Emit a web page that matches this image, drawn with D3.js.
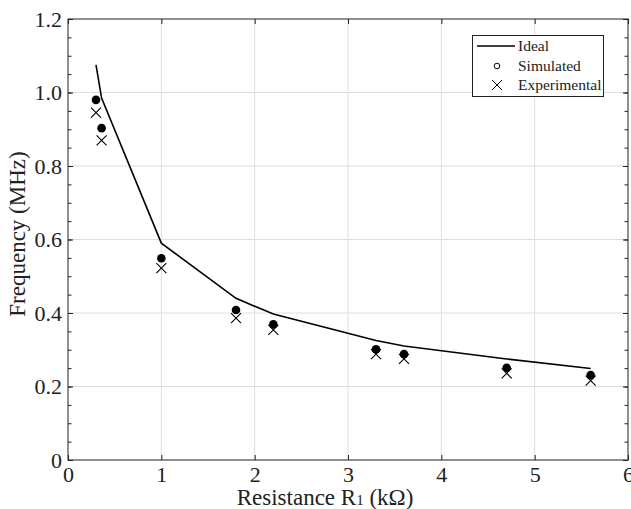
<!DOCTYPE html>
<html><head><meta charset="utf-8">
<script src="https://cdn.jsdelivr.net/npm/d3@7"></script>
<style>body{margin:0;background:#fff;} svg{display:block;} text{font-family:"Liberation Serif","Times New Roman",serif;fill:#222;}</style>
</head><body><svg id="c" width="631" height="509"></svg>
<script>
const idealX = [0.3, 0.36, 1, 1.8, 2.2, 3.3, 3.6, 4.7, 5.6];
const idealY = [1.075, 0.985, 0.59, 0.44, 0.397, 0.325, 0.31, 0.275, 0.249];
const simX = [0.3, 0.36, 1, 1.8, 2.2, 3.3, 3.6, 4.7, 5.6];
const simY = [0.98, 0.903, 0.549, 0.408, 0.369, 0.301, 0.288, 0.251, 0.231];
const expX = [0.3, 0.36, 1, 1.8, 2.2, 3.3, 3.6, 4.7, 5.6];
const expY = [0.945, 0.87, 0.522, 0.386, 0.354, 0.288, 0.275, 0.236, 0.216];
const xTicks = [0, 1, 2, 3, 4, 5, 6];
const yTicks = [0, 0.2, 0.4, 0.6, 0.8, 1.0, 1.2];
const yTickLabels = ["0", "0.2", "0.4", "0.6", "0.8", "1.0", "1.2"];
const legendLabels = ["Ideal", "Simulated", "Experimental"];

const svg = d3.select("#c");
const L = 68, R = 628, T = 19, B = 460;
const x = d3.scaleLinear().domain([0, 6]).range([L, R]);
const y = d3.scaleLinear().domain([0, 1.2]).range([B, T]);

// grid
const g = svg.append("g");
g.selectAll(".gx").data(xTicks.slice(1, -1)).join("line")
  .attr("x1", d => x(d)).attr("x2", d => x(d)).attr("y1", T).attr("y2", B)
  .attr("stroke", "#dedede").attr("stroke-width", 1);
g.selectAll(".gy").data(yTicks.slice(1, -1)).join("line")
  .attr("y1", d => y(d)).attr("y2", d => y(d)).attr("x1", L).attr("x2", R)
  .attr("stroke", "#dedede").attr("stroke-width", 1);

// axes
const minorY = d3.range(0, 1.2001, 0.05);
const axL = d3.axisLeft(y).tickValues(yTicks).tickFormat((d, i) => yTickLabels[i]).tickSizeInner(-5).tickSizeOuter(0).tickPadding(6);
const gl = svg.append("g").attr("transform", `translate(${L},0)`).call(axL);
const axLm = d3.axisLeft(y).tickValues(minorY).tickFormat("").tickSizeInner(-3.5).tickSizeOuter(0);
svg.append("g").attr("transform", `translate(${L},0)`).call(axLm);
const axR = d3.axisRight(y).tickValues(minorY).tickFormat("").tickSizeInner(-3.5).tickSizeOuter(0);
svg.append("g").attr("transform", `translate(${R},0)`).call(axR);
const axRM = d3.axisRight(y).tickValues(yTicks).tickFormat("").tickSizeInner(-5).tickSizeOuter(0);
svg.append("g").attr("transform", `translate(${R},0)`).call(axRM);
const axB = d3.axisBottom(x).tickValues(xTicks).tickFormat(d3.format("d")).tickSizeInner(-5).tickSizeOuter(0).tickPadding(6);
const gb = svg.append("g").attr("transform", `translate(0,${B})`).call(axB);
const axT = d3.axisTop(x).tickValues(xTicks).tickFormat("").tickSizeInner(-5).tickSizeOuter(0);
svg.append("g").attr("transform", `translate(0,${T})`).call(axT);
svg.selectAll(".domain").remove();
svg.selectAll(".tick line").attr("stroke", "#222");
svg.selectAll(".tick text").style("font-family", "'Liberation Serif',serif").style("font-size", "22px").attr("fill", "#222");
gb.selectAll(".tick text").attr("dy", "0.72em");

// frame
svg.append("rect").attr("x", L).attr("y", T).attr("width", R - L).attr("height", B - T)
  .attr("fill", "none").attr("stroke", "#222").attr("stroke-width", 1);

// ideal line
const line = d3.line().x(d => x(d[0])).y(d => y(d[1]));
svg.append("path").datum(idealX.map((v, i) => [v, idealY[i]]))
  .attr("d", line).attr("fill", "none").attr("stroke", "#000").attr("stroke-width", 1.6);

// simulated
svg.selectAll(".sim").data(simX.map((v, i) => [v, simY[i]])).join("circle")
  .attr("cx", d => x(d[0])).attr("cy", d => y(d[1])).attr("r", 4.3).attr("fill", "#000");

// experimental
const xs = 5;
svg.selectAll(".exp").data(expX.map((v, i) => [v, expY[i]])).join("path")
  .attr("d", d => { const cx = x(d[0]), cy = y(d[1]); return `M${cx - xs},${cy - xs}L${cx + xs},${cy + xs}M${cx - xs},${cy + xs}L${cx + xs},${cy - xs}`; })
  .attr("stroke", "#000").attr("stroke-width", 1.1).attr("fill", "none");

// axis titles
svg.append("text").attr("x", 325).attr("y", 505).attr("text-anchor", "middle")
  .style("font-size", "23px")
  .call(t => { t.append("tspan").text("Resistance R"); t.append("tspan").style("font-size", "15px").text("1"); t.append("tspan").text(" (kΩ)"); });
svg.append("text").attr("transform", `translate(25,234) rotate(-90)`).attr("text-anchor", "middle")
  .style("font-size", "23px").text("Frequency (MHz)");

// legend
const lg = svg.append("g");
lg.append("rect").attr("x", 472.5).attr("y", 35.5).attr("width", 131).attr("height", 61)
  .attr("fill", "#fff").attr("stroke", "#222").attr("stroke-width", 1);
const rows = [46, 66, 85];
lg.append("line").attr("x1", 477).attr("x2", 515).attr("y1", rows[0]).attr("y2", rows[0]).attr("stroke", "#000").attr("stroke-width", 1.3);
lg.append("circle").attr("cx", 497).attr("cy", rows[1]).attr("r", 2.8).attr("fill", "none").attr("stroke", "#000").attr("stroke-width", 1);
lg.append("path").attr("d", `M${497 - 5},${rows[2] - 5}L${497 + 5},${rows[2] + 5}M${497 - 5},${rows[2] + 5}L${497 + 5},${rows[2] - 5}`).attr("stroke", "#000").attr("stroke-width", 1);
lg.selectAll(".lt").data(legendLabels).join("text")
  .attr("x", 518).attr("y", (d, i) => rows[i]).attr("dy", "0.35em")
  .style("font-size", "15.5px").text(d => d);
</script></body></html>
